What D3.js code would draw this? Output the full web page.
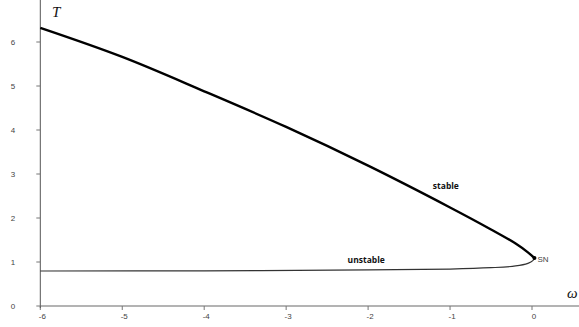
<!DOCTYPE html>
<html>
<head>
<meta charset="utf-8">
<script src="https://cdn.jsdelivr.net/npm/d3@7"></script>
<style>
  body { margin: 0; background: #fff; }
  #chart { width: 579px; height: 327px; }
  .tick-label { font-family: "Liberation Sans", Arial, sans-serif; font-size: 8px; fill: #444; }
  .branch-label { font-family: "Open Sans", "Liberation Sans", sans-serif; font-size: 8.5px; font-weight: bold; fill: #111; }
  .axis-title { font-family: "Liberation Serif", "DejaVu Serif", serif; font-style: italic; fill: #111; }
</style>
</head>
<body>
<div id="chart"></div>
<script>
// stable branch (omega, T)
const stableBranch = [
  [-6, 6.32], [-5, 5.66], [-4, 4.88], [-3, 4.07], [-2, 3.19],
  [-1, 2.24], [-0.5, 1.74], [-0.2, 1.42], [-0.05, 1.22], [0.03, 1.09]
];
// unstable branch (omega, T)
const unstableBranch = [
  [-6, 0.795], [-4, 0.80], [-2, 0.82], [-1, 0.84], [-0.5, 0.87],
  [-0.2, 0.91], [-0.05, 0.97], [0.01, 1.03], [0.03, 1.09]
];
const saddleNode = [0.03, 1.09];
const xTicks = [-6, -5, -4, -3, -2, -1, 0];
const yTicks = [0, 1, 2, 3, 4, 5, 6];
const labels = [
  { text: "stable", w: -1.21, t: 2.66 },
  { text: "unstable", w: -2.25, t: 0.98 }
];

const width = 579, height = 327;

const x = d3.scaleLinear().domain([-6, 0]).range([40.3, 532]);
const y = d3.scaleLinear().domain([0, 6]).range([306, 42]);

const svg = d3.select("#chart").append("svg")
  .attr("width", width)
  .attr("height", height);

// x axis
svg.append("line")
  .attr("x1", x(-6)).attr("x2", width)
  .attr("y1", y(0)).attr("y2", y(0))
  .attr("stroke", "#9a9a9a").attr("stroke-width", 1.6);

svg.selectAll(".xtick")
  .data(xTicks)
  .enter()
  .append("line")
  .attr("class", "xtick")
  .attr("x1", d => x(d)).attr("x2", d => x(d))
  .attr("y1", y(0)).attr("y2", y(0) + 4)
  .attr("stroke", "#777").attr("stroke-width", 1);

svg.selectAll(".xlabel")
  .data(xTicks)
  .enter()
  .append("text")
  .attr("class", "tick-label")
  .attr("x", d => x(d) + 2)
  .attr("y", y(0) + 13)
  .attr("text-anchor", "middle")
  .text(d => d);

// y axis
svg.append("line")
  .attr("x1", x(-6)).attr("x2", x(-6))
  .attr("y1", 0).attr("y2", y(0) + 2)
  .attr("stroke", "#555").attr("stroke-width", 1);

svg.selectAll(".ytick")
  .data(yTicks)
  .enter()
  .append("line")
  .attr("class", "ytick")
  .attr("x1", x(-6) - 4).attr("x2", x(-6))
  .attr("y1", d => y(d)).attr("y2", d => y(d))
  .attr("stroke", "#777").attr("stroke-width", 1);

svg.selectAll(".ylabel")
  .data(yTicks)
  .enter()
  .append("text")
  .attr("class", "tick-label")
  .attr("x", 13)
  .attr("y", d => y(d) + 3)
  .attr("text-anchor", "middle")
  .text(d => d);

// axis titles
svg.append("text")
  .attr("class", "axis-title")
  .attr("x", 52).attr("y", 17)
  .attr("font-size", 15)
  .text("T");

svg.append("text")
  .attr("class", "axis-title")
  .attr("x", 567).attr("y", 298)
  .attr("font-size", 15)
  .text("ω");

// branches
const line = d3.line()
  .x(d => x(d[0]))
  .y(d => y(d[1]))
  .curve(d3.curveCatmullRom.alpha(0.5));

svg.append("path")
  .datum(unstableBranch)
  .attr("d", line)
  .attr("fill", "none")
  .attr("stroke", "#333")
  .attr("stroke-width", 1.2);

svg.append("path")
  .datum(stableBranch)
  .attr("d", line)
  .attr("fill", "none")
  .attr("stroke", "#000")
  .attr("stroke-width", 2.4);

svg.append("circle")
  .attr("cx", x(saddleNode[0]))
  .attr("cy", y(saddleNode[1]))
  .attr("r", 2)
  .attr("fill", "#000");

svg.append("text")
  .attr("class", "tick-label")
  .attr("x", x(saddleNode[0]) + 3)
  .attr("y", y(saddleNode[1]) + 4)
  .attr("font-size", 7)
  .text("SN");

svg.selectAll(".branch-label")
  .data(labels)
  .enter()
  .append("text")
  .attr("class", "branch-label")
  .attr("x", d => x(d.w))
  .attr("y", d => y(d.t))
  .text(d => d.text);
</script>
</body>
</html>
